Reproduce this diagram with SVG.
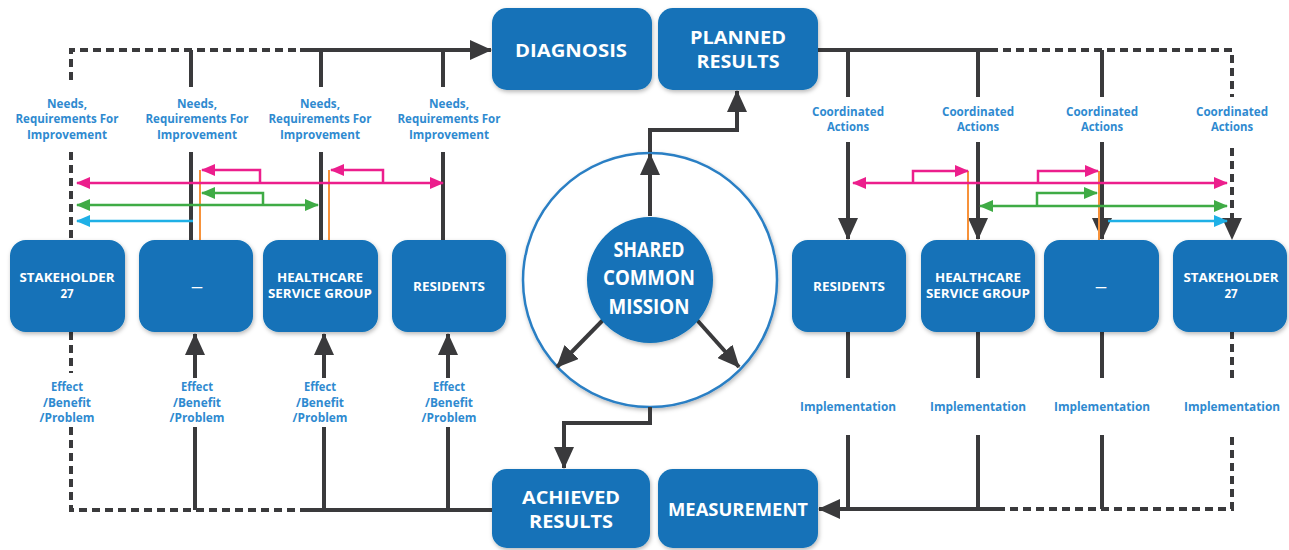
<svg xmlns="http://www.w3.org/2000/svg" width="1289" height="550" viewBox="0 0 1289 550">
<style>
.node{fill:#1272b8;filter:url(#sh)}
.nt{fill:#ffffff;font-family:"Open Sans","Noto Sans",sans-serif;font-weight:700;text-anchor:middle}
.sm{font-size:11.5px}
.bg{font-size:18px}
.ci{font-size:21px}
.lb{fill:#2f8ad0;font-family:"Open Sans","Noto Sans",sans-serif;font-weight:700;font-size:12.5px;text-anchor:middle}
.k{fill:none;stroke:#3a3a3c;stroke-width:4}
.d{fill:none;stroke:#3a3a3c;stroke-width:4;stroke-dasharray:8 5}
.ka{marker-end:url(#ak)}
.mg{fill:none;stroke:#ec1e8c;stroke-width:2.5}
.gr{fill:none;stroke:#3fab45;stroke-width:2.5}
.bl{fill:none;stroke:#1fb0e6;stroke-width:2.5}
.or{fill:none;stroke:#f7923a;stroke-width:2}
</style>
<defs>
<filter id="sh" x="-20%" y="-20%" width="140%" height="150%"><feDropShadow dx="1" dy="2" stdDeviation="2" flood-color="#000" flood-opacity="0.28"/></filter>
<marker id="ak" markerUnits="userSpaceOnUse" viewBox="0 0 22 20" markerWidth="22" markerHeight="20" refX="21" refY="10" orient="auto-start-reverse"><path d="M0,0 L22,10 L0,20 z" fill="#3a3a3c"/></marker>
<marker id="am" markerUnits="userSpaceOnUse" viewBox="0 0 14 12" markerWidth="14" markerHeight="12" refX="13" refY="6" orient="auto-start-reverse"><path d="M0,0 L14,6 L0,12 z" fill="#ec1e8c"/></marker>
<marker id="ag" markerUnits="userSpaceOnUse" viewBox="0 0 14 12" markerWidth="14" markerHeight="12" refX="13" refY="6" orient="auto-start-reverse"><path d="M0,0 L14,6 L0,12 z" fill="#3fab45"/></marker>
<marker id="ab" markerUnits="userSpaceOnUse" viewBox="0 0 14 12" markerWidth="14" markerHeight="12" refX="13" refY="6" orient="auto-start-reverse"><path d="M0,0 L14,6 L0,12 z" fill="#1fb0e6"/></marker>
</defs>
<rect width="1289" height="550" fill="#ffffff"/>

<g id="mission-ring">
<circle cx="650" cy="280" r="127" fill="#ffffff" stroke="#2a7fc4" stroke-width="2.5" filter="url(#sh)"/>
</g>

<g id="connectors">
<!-- top left -->
<path class="d" d="M71,80 V50 H300"/>
<path class="k ka" d="M300,50 H491"/>
<path class="k" d="M191,50 V87 M321,50 V87 M443,50 V87"/>
<path class="d" d="M71,152 V240"/>
<path class="k" d="M191,152 V240 M321,152 V240 M443,152 V240"/>
<!-- bottom left -->
<path class="d" d="M71,332 V373 M71,427 V510 H307"/>
<path class="k" d="M307,510 H492"/>
<path class="k ka" d="M195,378 V334"/>
<path class="k ka" d="M324,378 V334"/>
<path class="k ka" d="M448,378 V334"/>
<path class="k" d="M195,427 V510 M324,427 V510 M448,427 V510"/>
<!-- top right -->
<path class="k" d="M818,50 H990"/>
<path class="d" d="M990,50 H1232 V97"/>
<path class="k" d="M848,50 V97 M978,50 V97 M1102,50 V97"/>
<path class="k ka" d="M848,142 V239"/>
<path class="k ka" d="M978,142 V239"/>
<path class="k ka" d="M1102,142 V239"/>
<path class="d ka" d="M1232,148 V239"/>
<!-- bottom right -->
<path class="k ka" d="M997,509 H819"/>
<path class="d" d="M997,509 H1232 V435 M1232,378 V332"/>
<path class="k" d="M848,332 V378 M978,332 V378 M1102,332 V378"/>
<path class="k" d="M848,435 V509 M978,435 V509 M1102,435 V509"/>
<!-- center -->
<path class="k ka" d="M650,216 V154"/>
<path class="k ka" d="M650,152 V130 H737 V91"/>
<path class="k ka" d="M603,320 L557,367"/>
<path class="k ka" d="M697,320 L739,367"/>
<path class="k ka" d="M650,407 V423 H564 V468"/>
<!-- colored left -->
<path class="or" d="M200,170 V240 M329,170 V240"/>
<path class="mg" d="M443,183 H77" marker-start="url(#am)" marker-end="url(#am)"/>
<path class="mg" d="M260,183 V170 H202" marker-end="url(#am)"/>
<path class="mg" d="M383,183 V170 H331" marker-end="url(#am)"/>
<path class="gr" d="M318,205 H77" marker-start="url(#ag)" marker-end="url(#ag)"/>
<path class="gr" d="M263,205 V193 H202" marker-end="url(#ag)"/>
<path class="bl" d="M193,221 H77" marker-end="url(#ab)"/>
<!-- colored right -->
<path class="or" d="M968,171 V240 M1099,171 V240"/>
<path class="mg" d="M853,183 H1227" marker-start="url(#am)" marker-end="url(#am)"/>
<path class="mg" d="M913,183 V171 H968" marker-end="url(#am)"/>
<path class="mg" d="M1038,183 V171 H1098" marker-end="url(#am)"/>
<path class="gr" d="M980,206 H1227" marker-start="url(#ag)" marker-end="url(#ag)"/>
<path class="gr" d="M1037,206 V193 H1097" marker-end="url(#ag)"/>
<path class="bl" d="M1108,221 H1227" marker-end="url(#ab)"/>
</g>

<g id="labels">
<text class="lb"><tspan x="67" y="108" textLength="40" lengthAdjust="spacingAndGlyphs">Needs,</tspan><tspan x="67" y="123" textLength="103" lengthAdjust="spacingAndGlyphs">Requirements For</tspan><tspan x="67" y="139" textLength="80" lengthAdjust="spacingAndGlyphs">Improvement</tspan></text>
<text class="lb"><tspan x="197" y="108" textLength="40" lengthAdjust="spacingAndGlyphs">Needs,</tspan><tspan x="197" y="123" textLength="103" lengthAdjust="spacingAndGlyphs">Requirements For</tspan><tspan x="197" y="139" textLength="80" lengthAdjust="spacingAndGlyphs">Improvement</tspan></text>
<text class="lb"><tspan x="320" y="108" textLength="40" lengthAdjust="spacingAndGlyphs">Needs,</tspan><tspan x="320" y="123" textLength="103" lengthAdjust="spacingAndGlyphs">Requirements For</tspan><tspan x="320" y="139" textLength="80" lengthAdjust="spacingAndGlyphs">Improvement</tspan></text>
<text class="lb"><tspan x="449" y="108" textLength="40" lengthAdjust="spacingAndGlyphs">Needs,</tspan><tspan x="449" y="123" textLength="103" lengthAdjust="spacingAndGlyphs">Requirements For</tspan><tspan x="449" y="139" textLength="80" lengthAdjust="spacingAndGlyphs">Improvement</tspan></text>
<text class="lb"><tspan x="67" y="391" textLength="32" lengthAdjust="spacingAndGlyphs">Effect</tspan><tspan x="67" y="407" textLength="48" lengthAdjust="spacingAndGlyphs">/Benefit</tspan><tspan x="67" y="422" textLength="55" lengthAdjust="spacingAndGlyphs">/Problem</tspan></text>
<text class="lb"><tspan x="197" y="391" textLength="32" lengthAdjust="spacingAndGlyphs">Effect</tspan><tspan x="197" y="407" textLength="48" lengthAdjust="spacingAndGlyphs">/Benefit</tspan><tspan x="197" y="422" textLength="55" lengthAdjust="spacingAndGlyphs">/Problem</tspan></text>
<text class="lb"><tspan x="320" y="391" textLength="32" lengthAdjust="spacingAndGlyphs">Effect</tspan><tspan x="320" y="407" textLength="48" lengthAdjust="spacingAndGlyphs">/Benefit</tspan><tspan x="320" y="422" textLength="55" lengthAdjust="spacingAndGlyphs">/Problem</tspan></text>
<text class="lb"><tspan x="449" y="391" textLength="32" lengthAdjust="spacingAndGlyphs">Effect</tspan><tspan x="449" y="407" textLength="48" lengthAdjust="spacingAndGlyphs">/Benefit</tspan><tspan x="449" y="422" textLength="55" lengthAdjust="spacingAndGlyphs">/Problem</tspan></text>
<text class="lb"><tspan x="848" y="116" textLength="72" lengthAdjust="spacingAndGlyphs">Coordinated</tspan><tspan x="848" y="131" textLength="42" lengthAdjust="spacingAndGlyphs">Actions</tspan></text>
<text class="lb"><tspan x="978" y="116" textLength="72" lengthAdjust="spacingAndGlyphs">Coordinated</tspan><tspan x="978" y="131" textLength="42" lengthAdjust="spacingAndGlyphs">Actions</tspan></text>
<text class="lb"><tspan x="1102" y="116" textLength="72" lengthAdjust="spacingAndGlyphs">Coordinated</tspan><tspan x="1102" y="131" textLength="42" lengthAdjust="spacingAndGlyphs">Actions</tspan></text>
<text class="lb"><tspan x="1232" y="116" textLength="72" lengthAdjust="spacingAndGlyphs">Coordinated</tspan><tspan x="1232" y="131" textLength="42" lengthAdjust="spacingAndGlyphs">Actions</tspan></text>
<text class="lb" x="848" y="411" textLength="96" lengthAdjust="spacingAndGlyphs">Implementation</text>
<text class="lb" x="978" y="411" textLength="96" lengthAdjust="spacingAndGlyphs">Implementation</text>
<text class="lb" x="1102" y="411" textLength="96" lengthAdjust="spacingAndGlyphs">Implementation</text>
<text class="lb" x="1232" y="411" textLength="96" lengthAdjust="spacingAndGlyphs">Implementation</text>
</g>

<g id="diagnosis"><rect class="node" x="492" y="8" width="160" height="82" rx="15"/><text class="nt bg" x="571" y="57" textLength="112" lengthAdjust="spacingAndGlyphs">DIAGNOSIS</text></g>
<g id="planned-results"><rect class="node" x="658" y="8" width="160" height="82" rx="15"/><text class="nt bg"><tspan x="738" y="44" textLength="96" lengthAdjust="spacingAndGlyphs">PLANNED</tspan><tspan x="738" y="68" textLength="83" lengthAdjust="spacingAndGlyphs">RESULTS</tspan></text></g>
<g id="achieved-results"><rect class="node" x="492" y="469" width="158" height="79" rx="15"/><text class="nt bg"><tspan x="571" y="504" textLength="98" lengthAdjust="spacingAndGlyphs">ACHIEVED</tspan><tspan x="571" y="528" textLength="84" lengthAdjust="spacingAndGlyphs">RESULTS</tspan></text></g>
<g id="measurement"><rect class="node" x="658" y="469" width="160" height="79" rx="15"/><text class="nt bg" x="738" y="516" textLength="140" lengthAdjust="spacingAndGlyphs">MEASUREMENT</text></g>

<g id="shared-common-mission">
<circle class="node" cx="650" cy="280" r="63"/>
<text class="nt ci"><tspan x="649" y="257" textLength="71" lengthAdjust="spacingAndGlyphs">SHARED</tspan><tspan x="649" y="285" textLength="92" lengthAdjust="spacingAndGlyphs">COMMON</tspan><tspan x="649" y="314" textLength="81" lengthAdjust="spacingAndGlyphs">MISSION</tspan></text>
</g>

<g id="l-stakeholder27"><rect class="node" x="10" y="240" width="115" height="92" rx="16"/><text class="nt sm"><tspan x="67" y="282" textLength="95" lengthAdjust="spacingAndGlyphs">STAKEHOLDER</tspan><tspan x="67" y="298">27</tspan></text></g>
<g id="l-dash"><rect class="node" x="139" y="240" width="114" height="92" rx="16"/><text class="nt sm" x="197" y="291">—</text></g>
<g id="l-healthcare"><rect class="node" x="263" y="240" width="115" height="92" rx="16"/><text class="nt sm"><tspan x="320" y="282" textLength="86" lengthAdjust="spacingAndGlyphs">HEALTHCARE</tspan><tspan x="320" y="298" textLength="104" lengthAdjust="spacingAndGlyphs">SERVICE GROUP</tspan></text></g>
<g id="l-residents"><rect class="node" x="392" y="240" width="114" height="92" rx="16"/><text class="nt sm" x="449" y="291" textLength="72" lengthAdjust="spacingAndGlyphs">RESIDENTS</text></g>
<g id="r-residents"><rect class="node" x="792" y="240" width="114" height="92" rx="16"/><text class="nt sm" x="849" y="291" textLength="72" lengthAdjust="spacingAndGlyphs">RESIDENTS</text></g>
<g id="r-healthcare"><rect class="node" x="921" y="240" width="114" height="92" rx="16"/><text class="nt sm"><tspan x="978" y="282" textLength="86" lengthAdjust="spacingAndGlyphs">HEALTHCARE</tspan><tspan x="978" y="298" textLength="104" lengthAdjust="spacingAndGlyphs">SERVICE GROUP</tspan></text></g>
<g id="r-dash"><rect class="node" x="1044" y="240" width="115" height="92" rx="16"/><text class="nt sm" x="1101" y="291">—</text></g>
<g id="r-stakeholder27"><rect class="node" x="1173" y="240" width="114" height="92" rx="16"/><text class="nt sm"><tspan x="1231" y="282" textLength="95" lengthAdjust="spacingAndGlyphs">STAKEHOLDER</tspan><tspan x="1231" y="298">27</tspan></text></g>
</svg>
